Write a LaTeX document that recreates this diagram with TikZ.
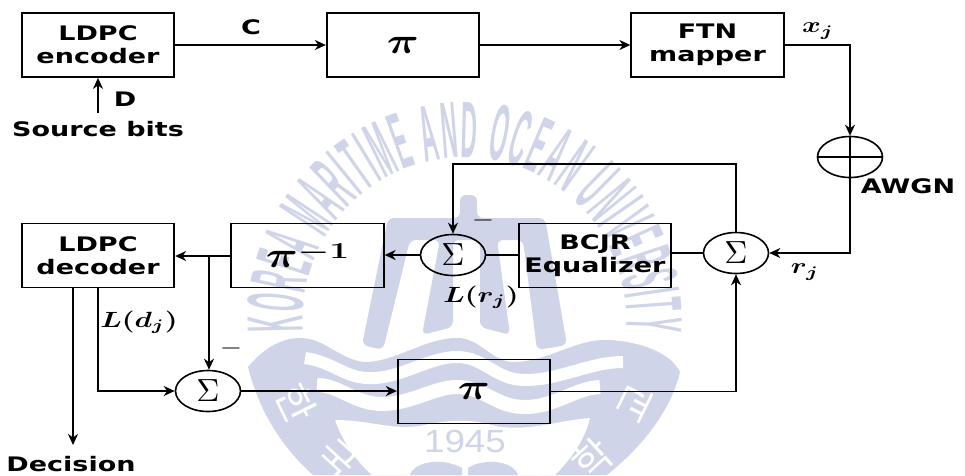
\documentclass[tikz,border=0pt]{standalone}
\usepackage{fontspec}
\usepackage{graphicx}
\usetikzlibrary{arrows.meta,shapes.geometric,decorations.text}
\newfontfamily\lblfont[FakeStretch=1.35]{DejaVu Sans Bold}
\newfontfamily\sealfont[FakeStretch=0.28]{Liberation Sans Bold}
\newfontfamily\yearfont[FakeStretch=1.15]{Liberation Sans}
\newfontfamily\hanfont{Noto Sans CJK KR}
\definecolor{SealClr}{RGB}{208,212,232}
\newcommand{\bigMath}[1]{\scalebox{2.85}[2.2]{\boldmath$#1$}}
\newcommand{\piSign}{\scalebox{2.15}[1.75]{\boldmath$\pi$}}
\newcommand{\sigSign}{\scalebox{3.2}{$\Sigma$}}
\newcommand{\minusSign}{\scalebox{2.5}[1.6]{\boldmath$-$}}
\tikzset{
  blockbox/.style={draw,line width=1.8pt,minimum width=152.5pt,minimum height=64pt,inner sep=0pt,align=center,font=\lblfont\fontsize{20}{26}\selectfont},
  sumnode/.style={draw,line width=1.6pt,ellipse,minimum width=65pt,minimum height=41pt,inner sep=0pt},
  lbl/.style={inner sep=0pt,font=\lblfont\fontsize{20}{22}\selectfont},
  mathlbl/.style={inner sep=0pt},
  flow/.style={line width=1.7pt,-{Stealth[length=11pt,width=10pt,inset=3.5pt]}},
  wire/.style={line width=1.7pt}
}
\begin{document}
\begin{tikzpicture}[x=1pt,y=-1pt]
\useasboundingbox (0,0) rectangle (965,475);

% seal
\fill[SealClr] (248,367) .. controls (262,350) and (280,338) .. (300,338) .. controls (325,338) and (340,360) .. (365,362) .. controls (395,362) and (425,338) .. (457,338) .. controls (480,338) and (490,360) .. (512,362) .. controls (550,362) and (575,338) .. (610,340) .. controls (640,342) and (670,352) .. (680,372) .. controls (672,405) and (650,440) .. (607,475) -- (313,475) .. controls (285,450) and (260,415) .. (248,367) -- cycle;
\draw[white,line width=12pt] (305,358) .. controls (335,362) and (345,380) .. (375,378) .. controls (405,376) and (430,357) .. (457,357) .. controls (485,357) and (495,380) .. (525,380) .. controls (560,380) and (590,362) .. (623,362);
\draw[white,line width=14pt] (317,385) .. controls (340,385) and (355,405) .. (385,404) .. controls (415,402) and (435,387) .. (457,387) .. controls (485,387) and (495,407) .. (525,407) .. controls (555,407) and (575,388) .. (600,387);
\fill[white] (335,420) .. controls (370,420) and (390,430) .. (420,426) .. controls (445,420) and (470,418) .. (495,426) .. controls (530,432) and (560,420) .. (590,418) .. controls (585,440) and (570,460) .. (555,475) -- (372,475) .. controls (355,460) and (342,440) .. (335,420) -- cycle;
% mast
\fill[SealClr,rounded corners=6pt] (362,345) -- (383,350) -- (410,240) -- (440,240) -- (422,335) -- (453,327) -- (453,240) -- (480,240) -- (480,327) -- (510,335) -- (497,240) -- (523,240) -- (537,350) -- (567,345) -- (545,218) -- (477,218) -- (477,195) -- (460,195) -- (460,218) -- (388,218) -- cycle;
\node[text=SealClr,inner sep=0pt,font=\yearfont\fontsize{32}{32}\selectfont] (year) at (465,441) {1945};
\fill[SealClr] (410,475) .. controls (415,460) and (445,458) .. (462,468) -- (462,475) -- cycle;
\fill[SealClr] (518,475) .. controls (513,460) and (483,458) .. (468,468) -- (468,475) -- cycle;
\path[decorate,decoration={text along path,text align=fit to path,text={|\sealfont\fontsize{80}{80}\selectfont\color{SealClr}|KOREA MARITIME AND OCEAN UNIVERSITY}}] (303,331) arc[start angle=176,end angle=364,radius=162];
\path[decorate,decoration={text along path,text align=fit to path,text={|\hanfont\fontsize{40}{40}\selectfont\color{white}|한국해양대학교}}] (275,393) arc[start angle=159,end angle=21,radius=204];

% top row
\node[blockbox] (enc) at (98,45) {LDPC\\[-3pt]encoder};
\node[blockbox] (intl) at (403,45) {\piSign};
\node[blockbox] (map) at (707.5,45) {FTN\\[-3pt]mapper};
\node[sumnode] (noise) at (850,157) {};
\draw[wire] (noise.west) -- (noise.east);
\draw[wire] (noise.north) -- (noise.south);

% receiver
\node[sumnode] (sumr) at (736,253) {\sigSign};
\node[blockbox] (eq) at (595,255.5) {BCJR\\[-3pt]Equalizer};
\node[sumnode] (suml) at (453,255) {\sigSign};
\node[blockbox] (deintl) at (307.5,255.5) {\piSign\raisebox{9pt}{\scalebox{1.7}[1.1]{\boldmath$-1$}}};
\node[blockbox] (dec) at (98,255.5) {LDPC\\[-3pt]decoder};
\node[sumnode] (sumb) at (208,391) {\sigSign};
\node[blockbox] (reintl) at (474,391.5) {\piSign};

% texts
\node[lbl] (src) at (98,129) {Source bits};
\node[lbl] (dlbl) at (125,99) {D};
\node[lbl] (clbl) at (251,27) {C};
\node[lbl] (awgn) at (908,186) {AWGN};
\node[lbl] (decis) at (71,464) {Decision};
\node[mathlbl] (xlbl) at (818,31) {\bigMath{x_j}};
\node[mathlbl] (rlbl) at (805,272) {\bigMath{r_j}};
\node[mathlbl] (lrlbl) at (481,297) {\bigMath{L(r_j)}};
\node[mathlbl] (ldlbl) at (139,322) {\bigMath{L(d_j)}};
\node[mathlbl] (minusa) at (483,220) {\minusSign};
\node[mathlbl] (minusb) at (231,348) {\minusSign};
\coordinate (srcin) at (98,113);
\coordinate (decout) at (73,445);
\coordinate (fback) at (453,164);
\coordinate (tap) at (209,256);

% links
\draw[flow] (srcin) -- (enc);
\draw[flow] (enc) -- (intl);
\draw[flow] (intl) -- (map);
\draw[flow] (map.east) -| (noise.north);
\draw[flow] (noise.south) |- (sumr.east);
\draw[wire] (sumr.west) -- (sumr.west -| eq.east);
\draw[wire] (suml.east) -- (suml.east -| eq.west);
\draw[flow] (suml.west) -- (suml.west -| deintl.east);
\draw[flow] (deintl.west |- tap) -- (dec.east |- tap);
\draw[flow] (sumr.north) |- (fback) -- (suml.north);
\draw[flow] (tap) -- (sumb.north -| tap);
\draw[flow] (dec.south) |- (sumb.west);
\draw[flow] (dec.south -| decout) -- (decout);
\draw[flow] (sumb.east) -- (sumb.east -| reintl.west);
\draw[flow] (reintl.east) -| (sumr.south);

\end{tikzpicture}
\end{document}
